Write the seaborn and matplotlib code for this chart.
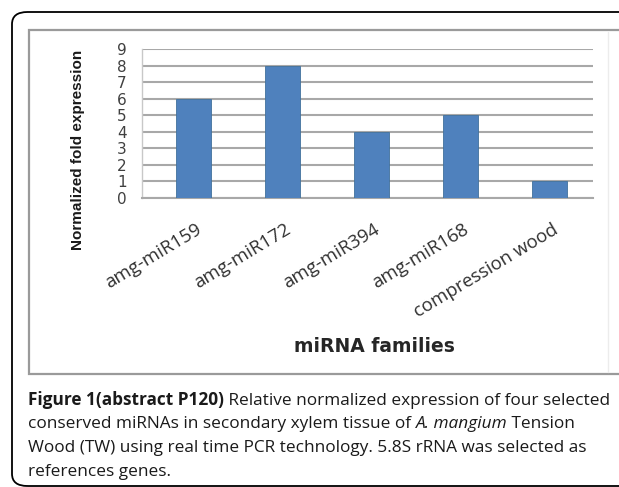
import matplotlib
matplotlib.use("Agg")
import matplotlib.pyplot as plt
import matplotlib.transforms as mtransforms
from matplotlib.patches import FancyBboxPatch, Rectangle
import seaborn as sns
import pandas as pd

# ---------------------------------------------------------
# data
# ---------------------------------------------------------
families = ["amg-miR159", "amg-miR172", "amg-miR394", "amg-miR168", "compression wood"]
fold_expr = [6, 8, 4, 5, 1]
y_ticks = list(range(0, 10))

caption_lines = [
    [("Figure 1(abstract P120)", "bold", "normal"),
     (" Relative normalized expression of four selected", "normal", "normal")],
    [("conserved miRNAs in secondary xylem tissue of ", "normal", "normal"),
     ("A. mangium", "normal", "italic"),
     (" Tension", "normal", "normal")],
    [("Wood (TW) using real time PCR technology. 5.8S rRNA was selected as", "normal", "normal")],
    [("references genes.", "normal", "normal")],
]

df = pd.DataFrame({"family": families, "expr": fold_expr})

W, H = 619, 487
sns.set_theme(style="white")
plt.rcParams["font.family"] = ["Open Sans", "DejaVu Sans"]

fig = plt.figure(figsize=(W / 100, H / 100), dpi=100)


def px(x, y):
    return x / W, 1 - y / H


# outer rounded frame + inner chart frame
fig.patches.append(FancyBboxPatch(px(12, 486), (660 - 12) / W, (486 - 12) / H,
                                  boxstyle="round,pad=0,rounding_size=0.025",
                                  transform=fig.transFigure, fill=False,
                                  edgecolor="black", linewidth=1.3, zorder=0))
fig.patches.append(Rectangle(px(29, 374), (650 - 29) / W, (374 - 30) / H,
                             transform=fig.transFigure, facecolor="white",
                             edgecolor="#9a9a9a", linewidth=1.6, zorder=0))
fig.lines.append(plt.Line2D([608 / W, 608 / W], [1 - 32 / H, 1 - 372 / H],
                            transform=fig.transFigure, color="#ececec", lw=1))

ax = fig.add_axes([142 / W, 1 - 198 / H, (593 - 142) / W, (198 - 49) / H])
ax.set_zorder(5)
ax.patch.set_alpha(0)
sns.barplot(data=df, x="family", y="expr", color="#4f81bd", width=0.4,
            saturation=1, edgecolor="#41719c", linewidth=0.6, ax=ax, zorder=3)

ax.set_ylim(0, 9)
ax.set_xlim(-0.58, 4.49)
ax.set_yticks(y_ticks)
ax.set_yticklabels([str(v) for v in y_ticks], family="DejaVu Sans",
                   fontsize=11, color="#404040")
ax.grid(axis="y", color="#a8a8a8", linewidth=1.5, zorder=0)
ax.set_axisbelow(True)
ax.set_xlabel("")
ax.set_ylabel("")
for s in ["top", "right"]:
    ax.spines[s].set_visible(False)
ax.spines["left"].set_color("#c8c8c8")
ax.spines["left"].set_linewidth(1.0)
ax.spines["bottom"].set_color("#a8a8a8")
ax.spines["bottom"].set_linewidth(1.5)
ax.tick_params(axis="y", length=0, pad=11)
ax.tick_params(axis="x", length=0, pad=0)

# rotated category labels, hanging off the right end
ax.set_xticks(range(len(families)))
ax.set_xticklabels(families, rotation=31, ha="right", va="center",
                   rotation_mode="anchor", fontsize=13.4, color="#303030")
shift = mtransforms.ScaledTranslation(7 / 100, -30 / 100, fig.dpi_scale_trans)
for lbl in ax.get_xticklabels():
    lbl.set_transform(lbl.get_transform() + shift)

fig.text(*px(374, 347), "miRNA families", ha="center", va="center",
         family="DejaVu Sans", fontweight="bold", fontsize=13.5, color="#262626")
fig.text(*px(78, 150), "Normalized fold expression", ha="center", va="center",
         rotation=90, family="Liberation Sans",
         fontweight="bold", fontsize=11, color="#1a1a1a")

# caption, piece by piece so bold/italic runs sit inline
renderer = fig.canvas.get_renderer()
baselines = [405, 428, 452, 476]
for line, base in zip(caption_lines, baselines):
    x = 28
    for txt, weight, style in line:
        t = fig.text(*px(x, base), txt, ha="left", va="baseline", fontsize=12.4,
                     fontweight=weight, fontstyle=style, color="#1a1a1a")
        x = t.get_window_extent(renderer).x1

fig.savefig("out.png", dpi=100)
